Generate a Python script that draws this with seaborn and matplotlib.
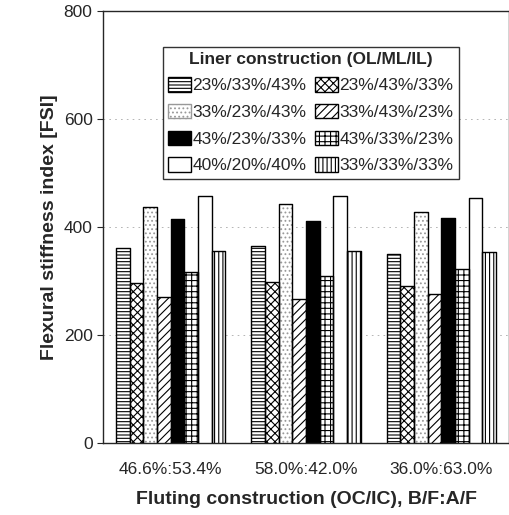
import pandas as pd
import seaborn as sns
import matplotlib.pyplot as plt
from matplotlib.patches import Patch

# Values
fluting = ['46.6%:53.4%', '58.0%:42.0%', '36.0%:63.0%']
liners = ['23%/33%/43%', '23%/43%/33%', '33%/23%/43%', '33%/43%/23%',
          '43%/23%/33%', '43%/33%/23%', '40%/20%/40%', '33%/33%/33%']
fsi_46 = [360, 296, 436, 271, 414, 316, 458, 356]
fsi_58 = [365, 297, 442, 266, 411, 309, 458, 355]
fsi_36 = [349, 291, 427, 275, 416, 322, 454, 353]

# styles per liner construction
hatches = ['-----', 'xxxx', '....', '////', '', '+++', '', '||||']
fills = ['white', 'white', 'white', 'white', 'black', 'white', 'white', 'white']
hatch_colors = ['black', 'black', '#999999', 'black', 'black', 'black', 'black', 'black']

rows = []
for f, vals in zip(fluting, [fsi_46, fsi_58, fsi_36]):
    for l, v in zip(liners, vals):
        rows.append({'Fluting': f, 'Liner': l, 'FSI': v})
df = pd.DataFrame(rows)

sns.set_style('ticks')
plt.rcParams['font.family'] = ['Liberation Sans', 'DejaVu Sans']
plt.rcParams['hatch.linewidth'] = 0.8

fig = plt.figure(figsize=(5.1, 5.15), dpi=100)
ax = fig.add_axes([0.202, 0.140, 0.796, 0.839])

sns.barplot(data=df, x='Fluting', y='FSI', hue='Liner', order=fluting,
            hue_order=liners, width=0.81, gap=0, ax=ax, legend=False,
            edgecolor='black', linewidth=1.0)

for i, cont in enumerate(ax.containers):
    for bar in cont:
        bar.set_facecolor(fills[i])
        bar.set_hatch(hatches[i])
        bar.set_edgecolor(hatch_colors[i])
        bar.set_linewidth(0.6)
    # outline in black drawn on top
    for bar in cont:
        x, w, h = bar.get_x(), bar.get_width(), bar.get_height()
        ax.plot([x, x, x + w, x + w], [0, h, h, 0], color='black', lw=1.0, zorder=3)

ax.set_xlim(-0.5, 2.5)
ax.set_ylim(0, 800)
ax.set_yticks([0, 200, 400, 600, 800])
ax.yaxis.grid(True, linestyle=(0, (2, 5)), color='#aaaaaa', linewidth=0.6)
ax.set_axisbelow(True)
for s in ax.spines.values():
    s.set_visible(True)
    s.set_linewidth(1.0)
ax.tick_params(axis='both', labelsize=12.5, direction='out', length=4)
ax.tick_params(axis='x', length=0, pad=14)

ax.set_xlabel('Fluting construction (OC/IC), B/F:A/F', fontsize=14,
              fontweight='bold', labelpad=10)
ax.set_ylabel('Flexural stiffness index [FSI]', fontsize=14,
              fontweight='bold', labelpad=4)

# legend row-major: matplotlib fills column-major, so reorder
handles = [Patch(facecolor=fills[i], edgecolor=hatch_colors[i] if hatches[i] else 'black',
                 hatch=hatches[i], label=liners[i]) for i in range(8)]
order = [0, 2, 4, 6, 1, 3, 5, 7]
leg = ax.legend([handles[i] for i in order], [liners[i] for i in order],
                ncol=2, title='Liner construction (OL/ML/IL)',
                loc='upper left', bbox_to_anchor=(0.148, 0.917), borderaxespad=0,
                frameon=True, fancybox=False, edgecolor='black',
                fontsize=12.5, title_fontproperties={'weight': 'bold', 'size': 12.5},
                handlelength=1.3, handleheight=0.9, handletextpad=0.1,
                columnspacing=0.5, labelspacing=0.6, borderpad=0.3)
leg.get_frame().set_linewidth(1.0)

fig.savefig('out.png', dpi=100)
